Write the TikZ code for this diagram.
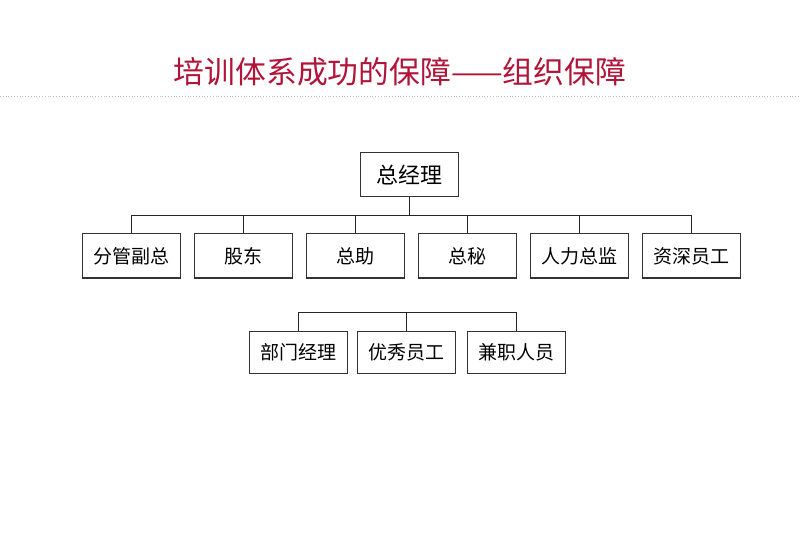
\documentclass[tikz,border=0pt]{standalone}
\usepackage{fontspec}
\newfontfamily\cjk{Noto Sans CJK SC}
\usepackage{tikz}
\usetikzlibrary{positioning}
\definecolor{titlered}{RGB}{176,20,56}

\begin{document}
\begin{tikzpicture}[x=1pt, y=-1pt, node distance=112pt,
    box/.style={draw=black!80, line width=1pt, minimum width=98pt, minimum height=44pt, inner sep=0pt, font=\cjk\fontsize{19}{19}\selectfont},
    link/.style={draw=black!85, line width=1pt}]
    \useasboundingbox (0,0) rectangle (800,545);

    % Title
    \node [text=titlered, font=\cjk\fontsize{30.8}{31}\selectfont] (title) at (400,72) {培训体系成功的保障——组织保障};
    \draw [dotted, line width=0.8pt, black!25] (0,96) -- (800,96);

    % Nodes
    \node [box, minimum height=44pt, font=\cjk\fontsize{22}{22}\selectfont] (gm) at (409,175) {总经理};
    \node [box] (fgfz)                    at (131,256) {分管副总};
    \node [box] (gd)    [right of=fgfz]   {股东};
    \node [box] (zz)    [right of=gd]     {总助};
    \node [box] (zm)    [right of=zz]     {总秘};
    \node [box] (rlzj)  [right of=zm]     {人力总监};
    \node [box] (zsyg)  [right of=rlzj]   {资深员工};

    \node [box, minimum height=42pt] (bmjl)  at (298,352) {部门经理};
    \node [box, minimum height=42pt] (yxyg)  at (406,352) {优秀员工};
    \node [box, minimum height=42pt] (jzry)  at (516,352) {兼职人员};

    % Paths
    \coordinate (bus)  at (409,216);
    \coordinate (bus2) at (406,312);
    \path [link] (gm.south) -- (bus);
    \foreach \n in {fgfz,gd,zz,zm,rlzj,zsyg}
        \path [link] (\n.north) |- (bus);
    \foreach \n in {bmjl,yxyg,jzry}
        \path [link] (\n.north) |- (bus2);

\end{tikzpicture}
\end{document}
